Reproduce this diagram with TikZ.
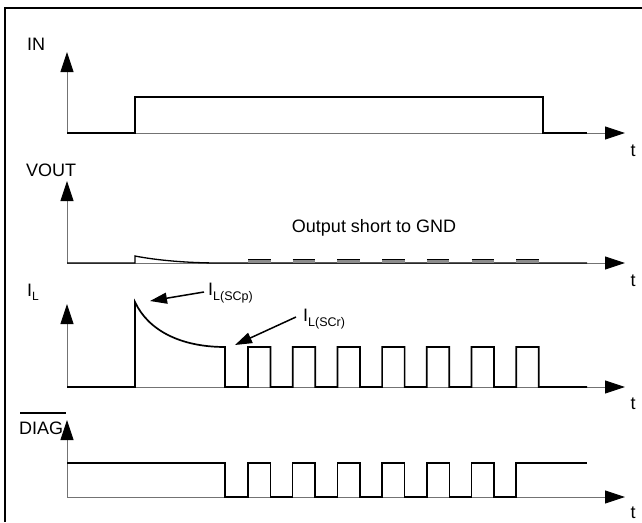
\documentclass[tikz,border=0pt]{standalone}
\usepackage{fontspec}
\setmainfont{Liberation Sans}
\usetikzlibrary{arrows.meta}
\begin{document}
\begin{tikzpicture}[x=1pt,y=-1pt,
  axis/.style={draw=black!55,line width=0.9pt,-{Triangle[length=20pt,width=13pt,color=black]}},
  sig/.style={draw=black,line width=1.7pt,line join=miter},
  lbl/.style={inner sep=0pt,font=\fontsize{18}{20}\selectfont},
  tlbl/.style={inner sep=0pt,font=\fontsize{18}{20}\selectfont},
  note/.style={draw=black,line width=1.5pt,-{Triangle[length=17pt,width=11pt]}}]
\useasboundingbox (0,0) rectangle (642,522);
% frame
\draw[line width=1.5pt] (5,522) -- (5,8) -- (642,8);

% ---------- IN ----------
\coordinate (inO) at (67,133);
\coordinate (inY) at (67,52);
\coordinate (inX) at (625,133);
\draw[axis] (inO) -- (inY);
\draw[axis] (inO) -- (inX);
\node[lbl,anchor=west] (inL) at (27,44) {IN};
\node[tlbl] (inT) at (633,151) {t};
\draw[sig] (inO) -- (135,133) -- (135,97) -- (543,97) -- (543,133) -- (587,133);

% ---------- VOUT ----------
\coordinate (voO) at (67,263);
\coordinate (voY) at (67,181);
\coordinate (voX) at (625,263);
\draw[axis] (voO) -- (voY);
\draw[axis] (voO) -- (voX);
\node[lbl,anchor=west] (voL) at (26,170) {VOUT};
\node[tlbl] (voT) at (633,281) {t};
\node[lbl] (short) at (374,228) {Output short to GND};
\draw[sig,line width=1.3pt] (voO) -- (135,263) -- (135,256) .. controls (150,259) and (180,263) .. (220,263) -- (587,263);
\foreach \k in {0,...,6}{
  \fill[black!45] ({248+44.7*\k},259.5) rectangle ({270.5+44.7*\k},263);
  \draw[black,line width=1pt] ({248+44.7*\k},259.5) -- ({270.5+44.7*\k},259.5);
}

% ---------- IL ----------
\coordinate (ilO) at (67,387);
\coordinate (ilY) at (67,304);
\coordinate (ilX) at (625,387);
\draw[axis] (ilO) -- (ilY);
\draw[axis] (ilO) -- (ilX);
\node[lbl,anchor=west] (ilL) at (27,292) {I\raisebox{-0.45ex}{\fontsize{12}{13}\selectfont L}};
\node[tlbl] (ilT) at (633,404) {t};
\draw[sig] (ilO) -- (135,387) -- (135,302) .. controls (148,330) and (180,347) .. (225,347) -- (225,387)
  \foreach \k in {0,...,6}{ -- ({248+44.7*\k},387) -- ({248+44.7*\k},347) -- ({270.5+44.7*\k},347) -- ({270.5+44.7*\k},387) }
  -- (587,387);
\node[lbl,anchor=west] (scp) at (208,293) {I\raisebox{-0.45ex}{\fontsize{12.5}{13}\selectfont L(SCp)}};
\node[lbl,anchor=west] (scr) at (303,319) {I\raisebox{-0.45ex}{\fontsize{12.5}{13}\selectfont L(SCr)}};
\coordinate (scpTip) at (150,301);
\coordinate (scrTip) at (235,345);
\draw[note] (scp.west) ++(-4,-1) -- (scpTip);
\draw[note] (scr.west) ++(-7,-2) -- (scrTip);

% ---------- DIAG ----------
\coordinate (dgO) at (67,497);
\coordinate (dgY) at (67,420);
\coordinate (dgX) at (625,497);
\draw[axis] (dgO) -- (dgY);
\draw[axis] (dgO) -- (dgX);
\node[lbl,anchor=west] (dgL) at (19,428) {DIAG};
\draw[line width=1.3pt] (20,413) -- (66,413);
\node[tlbl] (dgT) at (633,513) {t};
\draw[sig,line width=1.5pt] (67,463) -- (225,463) -- (225,497)
  \foreach \k in {0,...,5}{ -- ({248+44.7*\k},497) -- ({248+44.7*\k},463) -- ({270.5+44.7*\k},463) -- ({270.5+44.7*\k},497) }
  -- ({248+44.7*6},497) -- ({248+44.7*6},463) -- (587,463);
\end{tikzpicture}
\end{document}
